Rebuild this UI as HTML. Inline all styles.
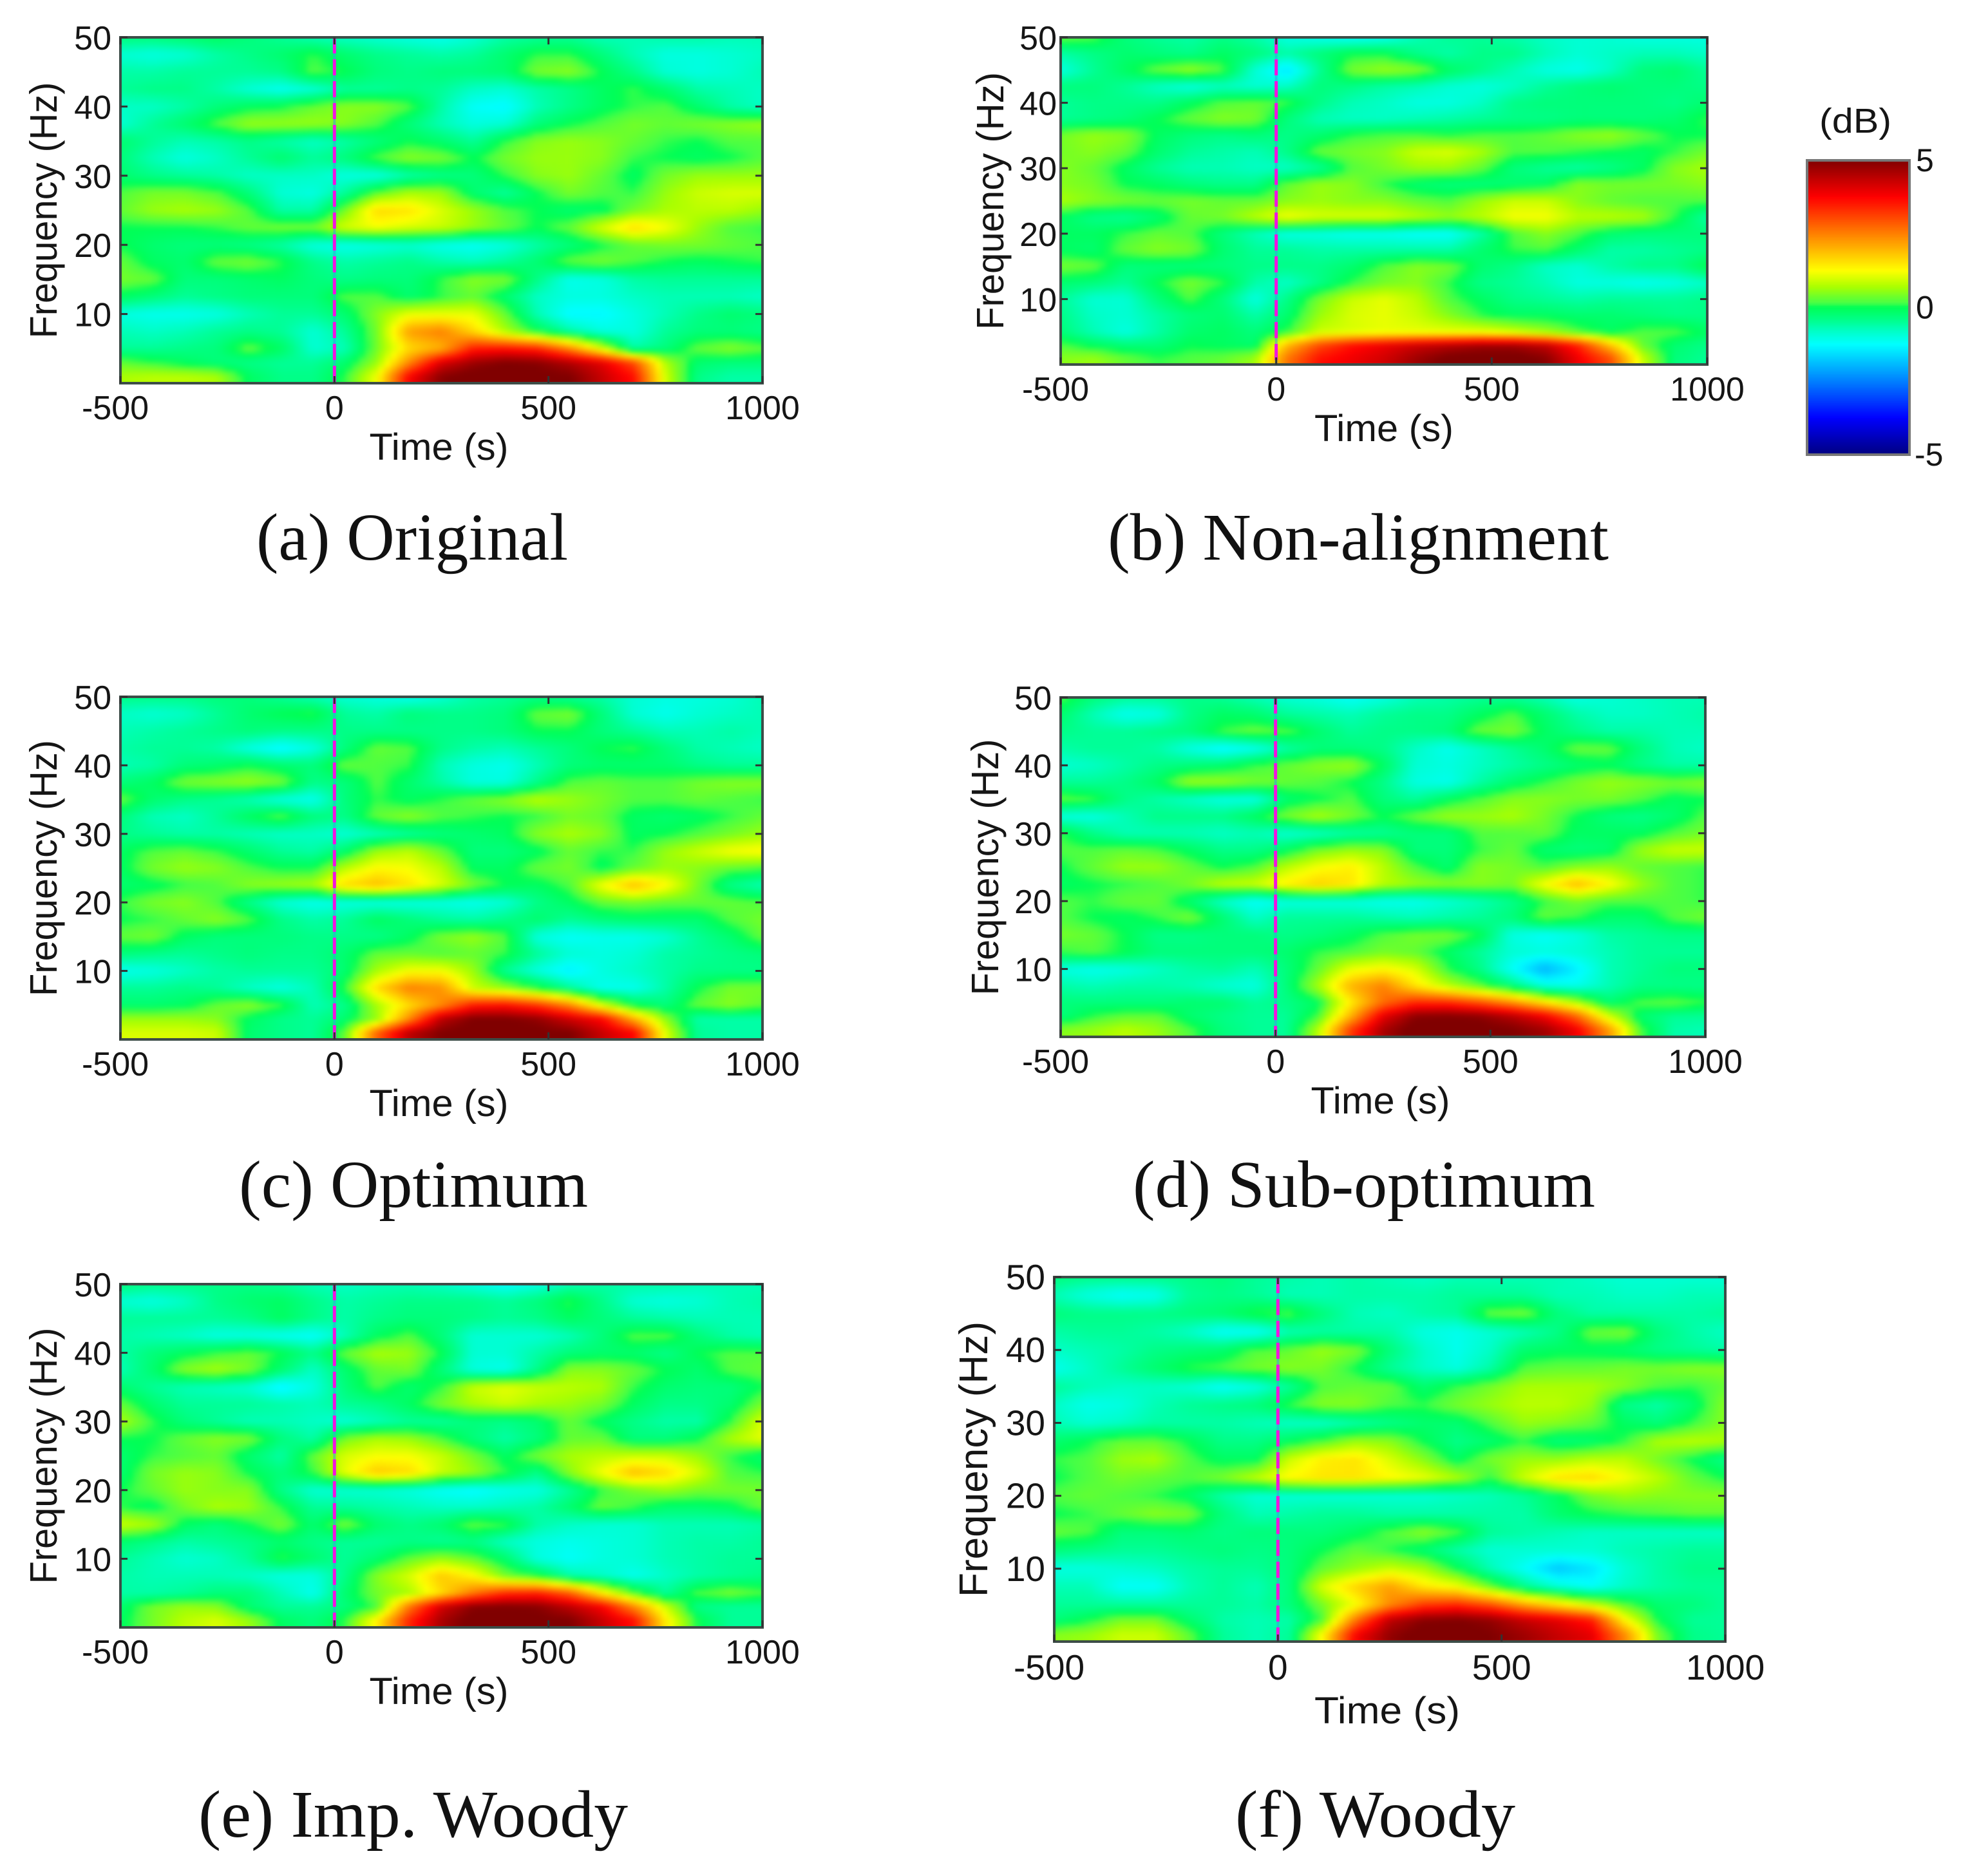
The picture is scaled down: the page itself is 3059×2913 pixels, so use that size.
<!DOCTYPE html>
<html lang="en">
<head>
<meta charset="utf-8">
<title>Time-frequency maps</title>
<style>
html,body{margin:0;padding:0;background:#fff;width:3059px;height:2913px;overflow:hidden}
svg{display:block}
text{font-family:"Liberation Sans",sans-serif;fill:#151515}
.cap{font-family:"Liberation Serif",serif;font-size:104px;fill:#111}
</style>
</head>
<body>
<svg id="fig" xmlns="http://www.w3.org/2000/svg" width="3059" height="2913" viewBox="0 0 3059 2913">
<defs>
<filter id="soft" filterUnits="userSpaceOnUse" x="0" y="0" width="3059" height="2913" color-interpolation-filters="sRGB"><feGaussianBlur stdDeviation="4"/></filter>
</defs>
<rect width="3059" height="2913" fill="#fff"/>
<text class="cap" x="398" y="869" textLength="484" lengthAdjust="spacingAndGlyphs">(a) Original</text>
<text class="cap" x="1720" y="869" textLength="778" lengthAdjust="spacingAndGlyphs">(b) Non-alignment</text>
<text class="cap" x="371" y="1874" textLength="542" lengthAdjust="spacingAndGlyphs">(c) Optimum</text>
<text class="cap" x="1759" y="1874" textLength="718" lengthAdjust="spacingAndGlyphs">(d) Sub-optimum</text>
<text class="cap" x="308" y="2852" textLength="667" lengthAdjust="spacingAndGlyphs">(e) Imp. Woody</text>
<text class="cap" x="1918" y="2852" textLength="435" lengthAdjust="spacingAndGlyphs">(f) Woody</text>
<text x="2825" y="206" font-size="54" textLength="112" lengthAdjust="spacingAndGlyphs">(dB)</text>
</svg>
<script>
// Shared axis data
const timeCols = [-500,-425,-350,-275,-200,-125,-50,25,100,175,250,325,400,475,550,625,700,775,850,925,1000];
const freqRows = [50,47.5,45,42.5,40,37.5,35,32.5,30,27.5,25,22.5,20,17.5,15,12.5,10,7.5,5,3,1];
const xTickLabels = [-500,0,500,1000];
const yTickLabels = [10,20,30,40,50];
const colorbarTicks = [5,0,-5];
const colorStopValues = [-5,-3.75,-1.25,-0.85,-0.4,0,0.15,0.7,1.25,2.5,3.75,5];
const colorStopRed = [0,0,0,0,0,0,70,170,255,255,255,128];
const colorStopGreen = [0,0,255,255,255,255,255,255,255,128,0,0];
const colorStopBlue = [128,255,255,205,135,85,70,0,0,0,0,0];

// Heatmap values in dB, one row per entry of freqRows, one column per entry of timeCols
const powerA = [
[-.3,-.3,-.2,-.1,-.3,-.5,-.7,-.8,-.9,-1,-1.1,-.9,-.6,-.5,-.5,-.7,-.7,-.6,-.6,-.7,-.7],
[-.9,-1,-.9,-.6,-.4,-.2,.1,-.2,-.4,-.5,-.6,-.5,-.2,.1,.1,-.3,-.7,-1,-1,-.9,-.8],
[-.6,-.6,-.5,-.5,-.5,-.4,.2,0,-.3,-.4,-.3,-.3,-.2,.4,.5,0,-.4,-.9,-1,-.9,-.7],
[-.5,-.4,-.4,-.6,-.9,-1.1,-.9,-.5,-.5,-.4,-.5,-.8,-.9,-.6,-.4,-.1,.1,-.2,-.6,-.7,-.8],
[-.8,-.8,-.6,-.3,-.1,0,.3,.5,.5,.2,-.6,-1.2,-1.3,-.7,-.4,-.1,.1,.2,-.2,-.6,-.8],
[-.9,-.5,-.2,.2,.6,.6,.6,.5,.2,-.3,-.7,-1,-.9,-.3,0,.2,.4,.3,.4,.5,.6],
[-.2,-.5,-.7,-.6,-.4,-.6,-.8,-.6,-.3,0,-.2,-.5,.1,.5,.6,.5,.3,.1,0,.2,.2],
[-.3,-.7,-1,-.8,-.5,-.2,-.5,-.3,.2,.5,.4,0,.4,.6,.6,.5,.1,0,-.1,0,.2],
[-.2,-.4,-.5,-.6,-.8,-.8,-.8,-1,-1,-.6,-.4,-.3,.1,.5,.6,.3,-.1,.4,.6,.6,.6],
[.2,.4,.4,.2,-.3,-.9,-1,-.5,.3,.7,.6,-.2,-.5,0,.4,.2,.1,.6,.9,1,1],
[.3,.6,.7,.6,.2,-.6,-.6,.4,1.6,1.5,1,.6,.2,0,-.2,-.1,.4,.7,.8,.8,.6],
[0,0,0,.1,.3,.4,.4,1,1.2,1,.9,.6,.3,0,.3,1,1.6,1.2,.6,.2,.1],
[0,-.2,-.3,-.3,-.4,-.6,-1,-1.1,-1,-.9,-1.1,-1.2,-1,-.6,-.3,0,.3,.4,.4,.3,.2],
[.3,-.1,-.2,.3,.4,.1,-.4,-.6,-.5,-.4,-.6,-.7,-.5,-.2,.3,.4,.2,0,-.1,0,.1],
[.4,.3,-.3,-.3,-.2,-.1,-.3,-.4,-.3,-.3,.1,.5,.4,-.4,-1.1,-1,-.6,-.5,-.5,-.5,-.5],
[-.1,-.3,-.5,-.4,-.3,-.3,-.3,.2,.2,-.2,.1,.3,-.2,-.8,-1,-1,-.8,-.7,-.7,-.7,-.8],
[-1,-1.1,-1.1,-1,-.7,-.5,-.5,-.2,.5,1.1,1.1,1.1,.3,-.7,-1.3,-1.3,-1,-.7,-.4,-.2,-.3],
[-.7,-.8,-.7,-.5,-.4,-.5,-.9,-.5,.4,2.2,2.5,1.6,.7,0,-.6,-1,-1,-.5,-.3,-.3,-.4],
[-.5,-.5,-.4,-.3,.3,-.1,-.9,-.7,.4,1.6,2,3.5,3.6,3.4,2.4,1,-.6,-.3,.3,.5,.3],
[.3,.1,-.1,-.3,-.4,-.5,-.5,-.2,.6,2.4,4.1,4.7,5,4.9,4.5,4,3,.7,-.2,-.3,-.3],
[.7,.8,.8,.7,-.1,-.4,-.4,.1,1.2,3.8,4.9,5.2,5.2,5.1,5,4.3,3.6,.9,-.4,-.6,-.6]
];
const powerB = [
[.3,.2,-.3,-.5,-.6,-.4,-.6,-1,-1.1,-1.2,-1.1,-.7,-.5,-.5,-.6,-.8,-.9,-.9,-1,-1,-1],
[-.6,-.4,-.2,-.3,-.4,-.1,-.3,-.6,-.3,0,0,-.4,-.6,-.4,-.4,-.7,-.9,-.8,-.7,-.7,-.8],
[-1,-.5,-.1,.3,.6,.2,-.9,-1.5,-.5,.4,.6,.5,-.1,-.4,-.7,-1,-1.1,-.8,-.3,-.2,-.5],
[-.3,-.3,-.5,-.8,-1,-.8,-.9,-.8,-.3,-.4,-.6,-.7,-.9,-1,-.8,-.5,-.3,-.2,-.3,-.3,-.4],
[-.5,-.4,-.4,-.4,-.1,.2,.3,.1,-.4,-.7,-.8,-1,-1,-.8,-.4,-.3,-.3,-.3,-.3,-.4,-.2],
[-.5,-.4,-.3,0,.3,.5,.4,-.3,-.7,-.8,-.8,-.7,-.6,-.5,-.4,-.4,-.3,-.3,-.3,-.2,.1],
[.4,.6,.5,-.1,-.3,-.4,-.3,-.4,-.2,.1,.2,.2,.1,.2,.2,.3,.5,.6,.3,0,0],
[.4,.5,.3,-.2,-.5,-.6,-.7,-.4,.3,.4,.5,.9,1,.7,.2,.2,.1,0,-.1,.1,.4],
[.5,.3,-.1,-.5,-.7,-.7,-.8,-.8,-.5,.2,.4,.6,.6,.3,-.3,-.5,-.6,-.4,-.1,.5,.7],
[.5,.4,0,-.1,-.3,-.4,-.4,.3,.6,.5,.1,-.2,-.3,-.3,-.2,-.1,.5,.4,.4,.4,.5],
[.7,.5,.4,.3,.4,.3,.3,.5,.6,.5,.5,.3,.2,.6,.9,.9,.5,.3,.2,.2,.2],
[-.1,-.4,-.5,-.2,.3,.4,.8,1.2,1,1,1,.8,.6,.8,1.2,1.2,.8,.8,.7,.1,-.6],
[-.1,-.1,.1,.3,.2,-.3,-.7,-1,-1,-1.1,-1.1,-1.2,-1.2,-.6,.2,.5,.2,-.2,-.3,-.3,-.3],
[-.1,-.2,.3,.5,.4,-.2,-.5,-.5,-.6,-.6,-.6,-.6,-.6,-.2,.1,.2,-.2,-.6,-.6,-.5,-.4],
[.4,.3,-.3,-.3,-.3,-.3,-.4,-.4,-.4,-.2,.2,.5,.4,-.2,-.4,-.8,-.9,-.6,-.4,-.4,0],
[-.2,-.3,-.5,0,.4,.1,-.6,-.8,-.4,.1,.4,.5,.1,-.4,-.5,-.7,-1,-1,-1.1,-1,-.8],
[-.5,-.9,-.9,-.3,.2,-.3,-1,-.4,.4,.9,1.1,.8,.2,-.1,-.4,-.5,-.6,-.5,-.5,-.5,-.4],
[-.4,-.8,-.9,-.6,-.3,-.2,-.6,-.2,.6,1,1.1,.9,.5,.1,-.1,-.1,-.2,-.2,-.3,-.4,-.4],
[-.3,-.7,-1,-.6,-.2,-.1,-.3,.1,.9,1,1.1,1.1,1.1,1.1,.9,.6,.2,-.1,.2,.2,-.1],
[.2,-.1,-.3,-.3,0,-.1,-.2,1.9,3,3.6,3.9,4.2,4.4,4.6,4.6,4.3,3.4,1.8,.3,-.2,-.4],
[.5,.6,.3,.1,.2,.3,.6,2.6,3.6,3.9,4.2,4.7,5.1,5.2,5.2,4.9,3.9,3,.9,-.3,-.5]
];
const powerC = [
[-.4,-.4,-.4,-.3,-.3,-.5,-.7,-.9,-1,-1.1,-.9,-.6,-.5,-.4,-.5,-.6,-.9,-1,-1,-.9,-.7],
[-.8,-.9,-.8,-.5,-.2,0,.1,-.5,-.6,-.3,-.4,-.4,-.3,.3,.4,-.3,-.9,-1.1,-.9,-.8,-.7],
[-.7,-.6,-.5,-.4,-.3,-.4,-.4,-.4,-.4,-.4,-.4,-.4,-.3,0,0,-.3,-.5,-.7,-.7,-.6,-.7],
[-.6,-.5,-.5,-.6,-1,-1.3,-1,-.3,.3,.2,-.4,-.6,-.7,-.5,-.3,0,.1,-.3,-.6,-.7,-.8],
[-.7,-.6,-.3,-.2,0,-.2,-.3,.3,.2,.1,-.7,-1,-1.1,-.7,-.3,-.2,-.2,-.2,-.4,-.5,-.5],
[-.3,-.1,.4,.5,.6,.4,-.4,-.3,.2,-.2,-.6,-1,-1,-.4,.2,.3,.2,.2,.4,.5,.5],
[.3,-.2,-.4,-.5,-.7,-1,-1.1,-.3,.1,-.1,.1,.3,.5,.8,.6,.4,.2,.2,.3,.2,.1],
[-.3,-.7,-.8,-.5,-.1,.2,-.3,-.4,.3,.5,.2,.1,0,.1,.4,.3,-.1,-.2,-.1,.1,.3],
[-.4,-.5,-.6,-.6,-.7,-.8,-.8,-.9,-.7,-.5,-.3,-.2,-.1,.5,.7,.5,-.1,0,.2,.4,.6],
[-.1,.2,.3,.1,-.2,-.5,-.6,-.2,.6,.8,.3,-.3,-.3,-.1,.3,.1,.1,.6,.9,1.2,1.3],
[-.1,.4,.6,.5,.2,0,0,.8,1.3,1.2,.8,-.1,-.1,.3,.4,-.1,.3,.6,.5,.3,.2],
[-.2,-.1,.1,.2,.5,.6,.7,1.6,1.9,1.5,1,.4,0,-.1,.2,1.2,1.9,1.3,.4,-.4,-.7],
[.1,.4,.5,.2,-.4,-.9,-1.1,-1,-1,-1,-1,-1.1,-.9,-.4,-.1,.3,.4,.3,.3,.3,.2],
[0,.1,.3,.5,.2,-.4,-.6,-.5,-.1,-.3,-.5,-.6,-.4,-.2,-.5,-.3,-.2,-.2,-.2,.2,.4],
[.3,.4,-.1,-.3,-.3,-.3,-.4,-.4,-.4,-.1,.4,.6,.2,-1,-1.2,-1.1,-1.1,-.9,-.5,-.2,.3],
[-.3,-.4,-.5,-.4,-.3,-.4,-.4,-.2,.3,.3,.2,.3,.1,-.5,-.9,-1,-.9,-.6,-.5,-.4,-.3],
[-1.1,-1,-.8,-.6,-.5,-.5,-.5,-.2,.7,1.2,1.2,.6,-.5,-1,-1.4,-1,-.8,-.6,-.4,-.4,-.4],
[-.5,-.5,-.4,-.5,-.8,-1,-.7,.1,1.6,2.5,2.3,.9,.6,.1,-.5,-1.1,-1.1,-.6,0,.4,.4],
[-.2,-.2,-.1,.3,.5,.1,-.7,-.4,.7,1.6,2.4,3.5,3.6,3.2,2.4,1,0,-.3,.3,.5,.3],
[.6,.6,.6,.5,-.1,-.4,-.5,-.2,.6,2.4,4.4,5,5,4.8,4.2,3.7,2,.5,-.6,-.6,-.6],
[1,1,1,.9,-.2,-.4,-.5,.3,2.8,4.4,5,5.2,5.2,5.1,5,4.3,3.7,1,-.5,-.6,-.6]
];
const powerD = [
[.2,-.3,-.5,-.5,-.4,-.5,-.7,-.9,-1,-1.2,-1,-.7,-.6,-.5,-.5,-.7,-1,-.9,-.8,-.7,-.7],
[-.2,-.7,-1.1,-1,-.4,-.1,-.2,-.5,-.6,-.7,-.5,-.4,-.4,-.1,.2,-.2,-.6,-.8,-.8,-.7,-.6],
[-.4,-.5,-.5,-.4,-.3,.1,.3,.2,-.2,-.5,-.4,-.4,-.3,.3,.4,-.1,-.4,-.6,-.6,-.7,-.7],
[-.6,-.5,-.5,-.6,-1,-1.3,-1.1,-.6,-.3,-.3,-.4,-.8,-1.1,-.8,-.5,-.2,.3,.3,-.3,-.7,-.8],
[-.9,-.8,-.6,-.4,-.3,-.2,.1,.3,.5,.6,-.1,-.9,-1,-.8,-.6,-.4,-.2,-.1,-.4,-.6,-.6],
[-.5,-.5,-.4,-.1,.6,.6,.4,.3,.2,0,-.4,-1,-1.1,-.6,-.2,.1,.4,.6,.5,.4,.5],
[.3,.1,-.4,-.6,-.8,-1,-1,-.2,0,.2,-.3,-.5,-.1,.2,.5,.5,.4,.4,.2,-.1,0],
[-1,-1,-.7,-.4,-.4,-.4,-.1,.4,.7,.4,0,.3,.6,.6,.7,.4,0,-.3,-.4,-.2,.2],
[.1,-.4,-.7,-.7,-.7,-.8,-.7,-.9,-.8,-.6,-.5,-.3,-.3,.2,.2,.3,-.1,-.1,-.1,.2,.4],
[.2,.2,.3,.2,-.1,-.4,-.4,-.1,.4,.6,.5,-.3,-.3,.1,.3,-.2,-.3,-.2,.6,.9,.9],
[0,.3,.6,.6,.3,0,.2,.8,1.2,1.4,.8,.2,-.2,.5,.4,.2,.5,.6,.3,.2,.1],
[-.1,0,.1,.2,.4,.8,.9,1.4,1.7,1.5,.8,.6,.5,.5,.4,1.2,1.9,1.3,.6,.2,.1],
[.2,.1,.3,.3,-.2,-.8,-1.2,-1,-1,-1,-1.1,-1.1,-.9,-.7,-.4,.1,.4,.2,.2,.2,.1],
[.2,0,-.1,.1,.4,-.2,-.8,-.5,-.5,-.5,-.6,-.7,-.6,-.5,-.3,.3,.1,-.2,-.2,.2,.4],
[.4,.3,0,-.4,-.4,-.3,-.3,-.4,-.3,-.1,.2,.4,.4,0,-1,-1.2,-1,-.6,-.5,-.4,-.4],
[.1,.2,0,-.3,-.3,-.3,-.3,-.2,.1,.2,.4,.3,-.1,-.5,-.9,-1,-.9,-.7,-.5,-.5,-.5],
[-1,-1.1,-1,-.8,-.6,-.5,-.7,-.3,.3,1.1,1.3,1,.1,-.4,-1.2,-2,-1.4,-.7,-.5,-.3,-.3],
[-.6,-.7,-.6,-.6,-.7,-.9,-1,-.3,.7,2,2.5,1.5,.8,.3,-.3,-1,-1.1,-.7,-.4,-.4,-.4],
[-.3,-.3,-.3,-.3,-.2,-.2,-.5,-.4,-.1,1.4,2.7,3.4,3.4,3,2.4,1.6,.8,-.2,.2,.3,.1],
[-.3,.1,.3,.3,-.2,-.4,-.5,-.5,.2,2,4,4.9,5,4.9,4.5,3.9,2.8,1,-.2,-.5,-.5],
[.5,.6,.8,.6,.2,-.3,-.5,-.5,.8,3.2,4.6,5.2,5.2,5.1,5,4.7,3.9,2.3,.2,-.6,-.7]
];
const powerE = [
[-.3,-.4,-.4,-.4,-.4,-.5,-.7,-.8,-.7,-.7,-.8,-1,-1.2,-1,-.7,-.6,-.6,-.6,-.7,-.7,-.7],
[-.9,-1,-.8,-.4,-.2,-.1,-.4,-.6,-.5,-.4,-.4,-.4,-.5,-.3,.1,-.4,-.9,-1,-.9,-.7,-.6],
[-.5,-.5,-.5,-.5,-.4,-.1,-.4,-.6,-.4,-.3,-.3,-.4,-.5,-.4,-.1,-.3,-.5,-.6,-.7,-.7,-.7],
[-.6,-.7,-.8,-1,-1,-1.1,-1.2,-.7,-.1,.2,-.3,-.9,-.9,-.9,-.7,-.3,.2,.2,-.3,-.6,-.7],
[-.6,-.3,-.1,.1,.3,0,-.4,.3,.7,.6,0,-.9,-.9,-.6,-.3,-.2,-.2,-.4,0,.2,.2],
[-.7,-.2,.5,.7,.4,-.2,-.8,-.2,.3,.4,-.3,-1,-1.1,-.4,.5,.5,.3,0,-.2,.2,.3],
[-.2,-.5,-.7,-.8,-.9,-1.4,-1,-.3,.2,-.2,.1,.9,1.1,.9,.8,.7,.1,-.2,-.3,-.3,0],
[.3,-.2,-.5,-.5,-.5,-.6,-.7,-.5,-.4,-.1,.4,.7,.9,.7,.6,.4,-.1,-.4,-.4,-.2,.4],
[.7,.1,-.3,-.5,-.7,-.7,-.8,-.9,-.7,-.5,-.5,-.3,-.4,-.2,.3,-.1,-.4,-.6,-.6,.1,1],
[0,0,.3,.5,.4,-.3,-.6,.4,.7,.6,.2,-.3,-.6,-.3,.3,.3,-.3,-.3,0,.7,1.1],
[-.2,.1,.2,.3,-.2,-.6,.3,1,1.2,1.2,.9,.4,-.1,.4,.7,.8,.9,.9,.6,.1,-.2],
[-.2,.4,.6,.5,0,-.3,.1,1.1,1.8,1.6,.9,.6,.1,-.4,.5,1.2,1.9,1.6,1,.2,.1],
[0,.3,.6,.5,.5,-.4,-.9,-.9,-.9,-1,-1.2,-1.3,-1.1,-1,-.5,.1,.4,.6,.4,.4,.4],
[.1,-.1,.4,.7,.6,.1,-.5,-.5,-.6,-.7,-.8,-.8,-.7,-.6,-.2,.3,.1,-.2,-.2,-.1,.3],
[.9,.7,-.1,-.3,0,.4,-.2,.4,-.2,-.4,-.2,.3,.1,-.6,-.8,-.9,-.9,-.7,-.7,-.7,-.6],
[-.2,-.4,-.6,-.5,-.4,-.2,-.4,-.5,-.5,-.4,-.5,-.4,-.8,-1,-1.1,-1,-.9,-.7,-.6,-.6,-.5],
[-.5,-.7,-.9,-.8,-.5,.1,-.2,-.5,-.2,.3,.6,.3,-.2,-1,-1.2,-1,-.9,-.7,-.6,-.5,-.5],
[-.6,-.7,-.7,-.7,-.8,-1,-1,-.4,.5,1,1.8,1.3,.4,.1,-.6,-.8,-1.1,-.8,-.6,-.5,-.4],
[-.6,-.6,-.5,-.3,-.3,-.7,-1.1,-.2,.4,.7,1.6,2.6,3.3,3.4,2.8,1.4,.3,-.5,.2,.4,.2],
[-.2,.4,.6,.5,-.2,-.5,-.5,-.3,.2,2.6,4.2,4.9,5,4.9,4.4,3.8,2.4,.9,-.4,-.5,-.5],
[-.1,.4,.8,1,.6,-.1,-.3,.1,1.4,3.4,4.6,5.2,5.2,5.1,5,4.3,3.6,1.4,0,-.5,-.5]
];
const powerF = [
[-.3,-.4,-.4,-.4,-.4,-.3,-.5,-.6,-.7,-.6,-.7,-.8,-.7,-.7,-.7,-.7,-.8,-.9,-.9,-.9,-.9],
[-.7,-1,-1.2,-1.1,-.5,-.4,-.5,-.7,-.7,-.6,-.6,-.6,-.5,-.5,-.5,-.7,-.7,-.8,-.8,-.7,-.7],
[-.3,-.4,-.4,-.4,-.3,-.2,.1,.2,-.3,-.7,-.8,-.6,-.5,.3,.4,-.3,-.6,-.6,-.6,-.6,-.5],
[-.6,-.5,-.5,-.6,-.8,-1.2,-1.2,-.7,-.6,-.6,-.6,-1,-1.1,-.9,-.7,-.4,.3,.4,-.3,-.6,-.8],
[-.8,-.7,-.6,-.4,-.3,-.2,.2,.3,.6,.4,-.3,-.8,-1.1,-.8,-.2,-.1,-.1,-.2,-.4,-.5,-.6],
[-1.1,-.8,-.5,-.2,.1,.2,.4,.5,.4,0,-.5,-.8,-1,-.6,.2,.3,.3,.4,.4,.5,.5],
[-.5,-.7,-.8,-.8,-.9,-1.2,-1,-.5,.2,.3,.3,-.2,.1,.4,.7,.7,.7,.5,.2,.1,.3],
[-.8,-1.1,-1,-.7,-.5,-.4,-.3,.1,.5,.5,.2,.1,.4,.6,.8,.8,.6,-.4,-.6,-.2,.5],
[-.7,-.9,-.8,-.6,-.6,-.6,-.7,-.8,-.8,-.6,-.4,-.2,-.2,.2,.6,.5,.3,-.1,-.3,.1,.5],
[-.2,0,.3,.3,0,-.4,-.4,-.1,.2,.6,.5,0,-.4,-.2,.1,-.3,-.2,.1,.7,.8,.7],
[.1,.2,.6,.7,.2,-.1,-.1,.9,1.4,1.5,1,.5,-.1,.4,.6,.6,.8,.8,.4,0,-.4],
[0,.2,.4,.3,.2,.4,.8,1.3,1.5,1.5,1.3,1.1,.7,.1,.9,1.5,1.6,1.2,.8,.3,0],
[.2,.3,.2,.1,-.1,-.6,-.9,-.9,-.9,-.9,-.9,-.9,-.8,-.7,-.5,-.1,.4,.6,.5,.5,.5],
[0,.1,.3,.5,.4,-.3,-.7,-.6,-.5,-.5,-.6,-.6,-.6,-.6,-.6,-.2,0,.1,.2,.3,.3],
[.3,.2,-.3,-.3,-.2,-.4,-.3,-.3,-.3,-.1,.2,.5,.2,-.5,-.6,-.7,-.8,-.8,-.8,-.8,-.8],
[-.3,-.4,-.5,-.5,-.4,-.3,-.4,-.3,0,.3,.1,-.2,-.6,-.9,-.9,-.9,-.9,-.7,-.6,-.5,-.5],
[-1,-1,-.9,-.8,-.6,-.5,-.5,-.3,.3,.6,.9,.7,0,-.7,-1.2,-1.8,-1.5,-.9,-.6,-.4,-.4],
[-.7,-.7,-1.2,-1.2,-.7,-.5,-.7,-.3,1,1.7,2.2,1.5,1.2,.4,-.4,-.9,-1.2,-.8,-.6,-.5,-.5],
[-.5,-.5,-.5,-.5,-.5,-.5,-.6,-.3,.4,1.2,2.4,3.2,3.4,3,2.2,1.6,1,.3,-.2,-.3,-.5],
[-.3,0,.4,.4,-.2,-.6,-.7,-.6,.2,2.6,4.4,4.9,5,4.8,4.3,4,3.5,1.3,0,-.5,-.5],
[.5,.6,.9,.9,.3,-.5,-.7,-.5,1.3,3.8,4.8,5.2,5.2,5,4.7,4.3,4,2.4,.4,-.4,-.5]
];

const NS = 'http://www.w3.org/2000/svg';
const fig = document.getElementById('fig');

function mk(parent, tag, attrs, txt) {
  const el = document.createElementNS(NS, tag);
  for (const k in attrs) el.setAttribute(k, attrs[k]);
  if (txt !== undefined) el.textContent = txt;
  parent.appendChild(el);
  return el;
}
function lerpArr(xs, ys, v) {
  if (v <= xs[0]) return ys[0];
  for (let i = 1; i < xs.length; i++) {
    if (v <= xs[i]) return ys[i - 1] + (ys[i] - ys[i - 1]) * (v - xs[i - 1]) / (xs[i] - xs[i - 1]);
  }
  return ys[ys.length - 1];
}
function colorOf(v) {
  const r = Math.round(lerpArr(colorStopValues, colorStopRed, v));
  const g = Math.round(lerpArr(colorStopValues, colorStopGreen, v));
  const b = Math.round(lerpArr(colorStopValues, colorStopBlue, v));
  return 'rgb(' + r + ',' + g + ',' + b + ')';
}
function bracket(list, v, descending) {
  const n = list.length;
  const q = descending ? -v : v;
  for (let i = 0; i < n - 1; i++) {
    const a = descending ? -list[i] : list[i];
    const b = descending ? -list[i + 1] : list[i + 1];
    if (q <= b) return [i, Math.max(0, (q - a) / (b - a))];
  }
  return [n - 2, 1];
}
function sampleGrid(matrix, t, f) {
  const [c, u] = bracket(timeCols, t, false);
  const [r, w] = bracket(freqRows, f, true);
  const top = matrix[r][c] * (1 - u) + matrix[r][c + 1] * u;
  const bot = matrix[r + 1][c] * (1 - u) + matrix[r + 1][c + 1] * u;
  return top * (1 - w) + bot * w;
}

function drawPanel(p) {
  const xScale = t => p.left + (t + 500) / 1500 * (p.right - p.left);
  const yScale = f => p.top + (50 - f) / 50 * (p.bottom - p.top);
  const xInv = x => -500 + (x - p.left) / (p.right - p.left) * 1500;
  const yInv = y => 50 - (y - p.top) / (p.bottom - p.top) * 50;

  const g = mk(fig, 'g', {});
  
  

  const clip = mk(fig.querySelector('defs'), 'clipPath', { id: 'clip-' + p.id });
  mk(clip, 'rect', { x: p.left, y: p.top, width: p.right - p.left, height: p.bottom - p.top });

  const clipG = mk(g, 'g', { 'clip-path': 'url(#clip-' + p.id + ')' });
  const cells = mk(clipG, 'g', { filter: 'url(#soft)', 'shape-rendering': 'crispEdges' });
  
  
  const dx = 10, dy = 7;
  for (let y = p.top - 14; y < p.bottom + 14; y += dy) {
    for (let x = p.left - 20; x < p.right + 20; x += dx) {
      const v = sampleGrid(p.values, xInv(x + dx / 2), yInv(y + dy / 2));
      const cell = mk(cells, 'rect', { x: x, y: y, width: dx + 1, height: dy + 1, fill: colorOf(v) });
      
      
    }
  }

  // stimulus-onset marker at t = 0
  const x0 = xScale(0);
  const under = mk(g, 'line', { x1: x0, x2: x0, y1: p.top, y2: p.bottom, stroke: '#3a9fe0', 'stroke-width': 4, 'stroke-opacity': 0.55 });
  
  
  const onset = mk(g, 'line', { x1: x0, x2: x0, y1: p.top, y2: p.bottom, stroke: '#f014e0', 'stroke-width': 5, 'stroke-dasharray': '25 9' });
  
  

  // frame
  const frame = mk(g, 'rect', { x: p.left, y: p.top, width: p.right - p.left, height: p.bottom - p.top, fill: 'none', stroke: '#3d4d48', 'stroke-width': 4 });
  
  

  // x axis
  xTickLabels.forEach(t => {
    const x = xScale(t);
    const t1 = mk(g, 'line', { x1: x, x2: x, y1: p.bottom, y2: p.bottom - 11, stroke: '#333', 'stroke-width': 3 });
    
    
    const t2 = mk(g, 'line', { x1: x, x2: x, y1: p.top, y2: p.top + 11, stroke: '#333', 'stroke-width': 3 });
    
    
    const lab = mk(g, 'text', { x: x - 8 * (t === -500 ? 1 : 0), y: p.bottom + p.xTickDy, 'text-anchor': 'middle', 'font-size': p.tickFont }, String(t));
    
    
  });
  const xt = mk(g, 'text', { x: (p.left + p.right) / 2 + p.xTitleShift, y: p.bottom + p.xTitleDy, 'text-anchor': 'middle', 'font-size': 58, textLength: p.xTitleLen, lengthAdjust: 'spacingAndGlyphs' }, 'Time (s)');
  
  

  // y axis
  yTickLabels.forEach(f => {
    const y = yScale(f);
    const t1 = mk(g, 'line', { x1: p.left, x2: p.left + 11, y1: y, y2: y, stroke: '#333', 'stroke-width': 3 });
    
    
    const t2 = mk(g, 'line', { x1: p.right, x2: p.right - 11, y1: y, y2: y, stroke: '#333', 'stroke-width': 3 });
    
    
    const lab = mk(g, 'text', { x: p.left - p.yTickGap, y: y + 19, 'text-anchor': 'end', 'font-size': p.tickFont }, String(f));
    
    
  });
  const yc = (p.top + p.bottom) / 2;
  const yt = mk(g, 'text', { x: 0, y: 0, transform: 'translate(' + (p.left - p.yTitleDx) + ',' + yc + ') rotate(-90)', 'text-anchor': 'middle', 'font-size': p.yTitleFont, textLength: p.yTitleLen, lengthAdjust: 'spacingAndGlyphs' }, 'Frequency (Hz)');
  
  
}

drawPanel({ id: 'a', values: powerA, left: 187, right: 1184, top: 58, bottom: 595, tickFont: 52, xTickDy: 56, xTitleDy: 119, xTitleShift: -4, xTitleLen: 216, yTickGap: 14, yTitleDx: 99, yTitleFont: 59, yTitleLen: 398 });
drawPanel({ id: 'b', values: powerB, left: 1647, right: 2651, top: 58, bottom: 566, tickFont: 52, xTickDy: 56, xTitleDy: 119, xTitleShift: 0, xTitleLen: 216, yTickGap: 6, yTitleDx: 89, yTitleFont: 59, yTitleLen: 400 });
drawPanel({ id: 'c', values: powerC, left: 187, right: 1184, top: 1082, bottom: 1614, tickFont: 52, xTickDy: 56, xTitleDy: 119, xTitleShift: -4, xTitleLen: 216, yTickGap: 14, yTitleDx: 99, yTitleFont: 59, yTitleLen: 398 });
drawPanel({ id: 'd', values: powerD, left: 1647, right: 2648, top: 1083, bottom: 1610, tickFont: 52, xTickDy: 56, xTitleDy: 119, xTitleShift: -4, xTitleLen: 216, yTickGap: 14, yTitleDx: 97, yTitleFont: 59, yTitleLen: 398 });
drawPanel({ id: 'e', values: powerE, left: 187, right: 1184, top: 1994, bottom: 2527, tickFont: 52, xTickDy: 56, xTitleDy: 119, xTitleShift: -4, xTitleLen: 216, yTickGap: 14, yTitleDx: 99, yTitleFont: 59, yTitleLen: 398 });
drawPanel({ id: 'f', values: powerF, left: 1637, right: 2679, top: 1983, bottom: 2549, tickFont: 55, xTickDy: 59, xTitleDy: 127, xTitleShift: -4, xTitleLen: 226, yTickGap: 14, yTitleDx: 104, yTitleFont: 62, yTitleLen: 428 });

// Colour bar
(function drawColorbar() {
  const bar = { left: 2806, right: 2965, top: 249, bottom: 706 };
  const yScale = v => bar.top + (5 - v) / 10 * (bar.bottom - bar.top);
  const g = mk(fig, 'g', {});
  
  
  for (let i = 0; i < 200; i++) {
    const v = 5 - i * 0.05;
    const seg = mk(g, 'rect', { x: bar.left, y: yScale(v), width: bar.right - bar.left, height: yScale(v - 0.05) - yScale(v) + 1, fill: colorOf(v - 0.025), 'shape-rendering': 'crispEdges' });
    
    
  }
  const frame = mk(g, 'rect', { x: bar.left, y: bar.top, width: bar.right - bar.left, height: bar.bottom - bar.top, fill: 'none', stroke: '#777', 'stroke-width': 4 });
  
  
  colorbarTicks.forEach(v => {
    const lab = mk(g, 'text', { x: bar.right + (v < 0 ? 8 : 10), y: yScale(v) + 17, 'font-size': 50 }, String(v));
    
    
  });
})();
</script>
</body>
</html>
